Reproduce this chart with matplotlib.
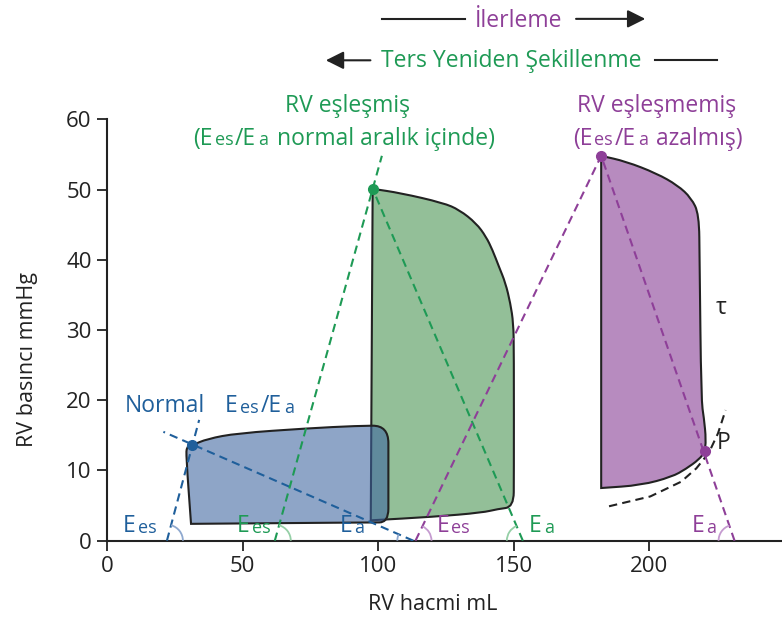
import numpy as np
import matplotlib.pyplot as plt
from matplotlib.patches import Arc, PathPatch
from matplotlib.path import Path
from matplotlib.transforms import IdentityTransform

plt.rcParams['font.family'] = ['Open Sans', 'DejaVu Sans']

# PV loops: volume (mL) and pressure (mmHg)
# (points are outline control points; listed corners stay sharp)
normal_v = [31.4, 37, 48, 74, 92, 103.8, 103.8, 103.8, 103.8, 97, 31.0, 29.2, 29.4]
normal_p = [13.6, 14.5, 15.3, 16.0, 16.35, 16.4, 11.4, 6.5, 2.6, 2.6, 2.4, 12.0, 13.4]
normal_corners = [0, 10]

matched_v = [98, 108.3, 124, 130, 136.2, 139.8, 142.2, 144.6, 147.0, 148.8, 149.9, 150.1, 150.1, 150.0, 144, 138.5, 120.4, 97.3]
matched_p = [50.1, 49.5, 48.1, 47.1, 45.2, 43.3, 41.4, 39.0, 36.7, 33.8, 31.0, 27.0, 9.0, 4.8, 4.5, 4.0, 3.4, 2.9]
matched_corners = [0, 17]

unmatched_v = [182.3, 191.4, 202.7, 210.5, 215.5, 218.4, 218.6, 219.2, 220.2, 221.0, 220.4, 218.5, 213.5, 208.4, 197.1, 182.3]
unmatched_p = [54.8, 54.0, 52.3, 50.6, 48.8, 46.5, 40.0, 20.0, 17.5, 14.3, 12.6, 11.6, 10.2, 9.1, 7.9, 7.5]
unmatched_corners = [0, 15]

edpvr_v = [185.2, 200.4, 211.8, 217.4, 222.0, 225.4, 228.2]
edpvr_p = [4.9, 6.3, 8.4, 10.3, 12.5, 15.3, 18.6]

# end-systolic points and point P
es_v = [31.4, 98.0, 182.3]
es_p = [13.6, 50.1, 54.8]
p_v, p_p = 220.5, 12.8

# Ees / Ea dashed lines (start on the volume axis, end)
normal_ees_v, normal_ees_p = [22.1, 34.0], [0, 17.2]
normal_ea_v, normal_ea_p = [113.0, 20.8], [0, 15.5]
matched_ees_v, matched_ees_p = [61.9, 101.4], [0, 54.8]
matched_ea_v, matched_ea_p = [153.4, 98.0], [0, 50.1]
unmatched_ees_v, unmatched_ees_p = [113.8, 182.3], [0, 54.8]
unmatched_ea_v, unmatched_ea_p = [231.5, 182.3], [0, 54.8]

BLUE = '#1f5f9b'
GREEN = '#1e9a55'
PURPLE = '#8e3f98'
DARK = '#222222'


def loop_patch(v, p, corners, **kw):
    # closed smooth outline through midpoints, control points from the lists
    pts = []
    for i, xy in enumerate(zip(v, p)):
        pts.append(xy)
        if i in corners:
            pts.append(xy)
    pts = np.array(pts, dtype=float)
    mids = (pts + np.roll(pts, -1, axis=0)) / 2
    verts = [mids[-1]]
    codes = [Path.MOVETO]
    for i in range(len(pts)):
        verts += [pts[i], mids[i]]
        codes += [Path.CURVE3, Path.CURVE3]
    verts.append(mids[-1])
    codes.append(Path.CLOSEPOLY)
    return PathPatch(Path(verts, codes), **kw)


fig = plt.figure(figsize=(7.82, 6.19), dpi=100)
ax = fig.add_axes([107 / 782, 78.3 / 619, 675 / 782, 421.4 / 619])
ax.set_xlim(0, 249)
ax.set_ylim(0, 60)

# loops
ax.add_patch(loop_patch(matched_v, matched_p, matched_corners, facecolor='#93bf98',
                        edgecolor=DARK, lw=1.5, zorder=2))
ax.add_patch(loop_patch(normal_v, normal_p, normal_corners,
                        facecolor=(60 / 255, 100 / 255, 160 / 255, 0.58),
                        edgecolor=DARK, lw=1.5, zorder=3))
ax.add_patch(loop_patch(unmatched_v, unmatched_p, unmatched_corners, facecolor='#b78bbf',
                        edgecolor=DARK, lw=1.5, zorder=2))
ax.plot(edpvr_v, edpvr_p, color=DARK, lw=1.5, dashes=(4, 2.5), zorder=4)

# dashed Ees / Ea lines
dash = dict(lw=1.5, dashes=(4, 2.5), zorder=4)
ax.plot(normal_ees_v, normal_ees_p, color=BLUE, **dash)
ax.plot(normal_ea_v, normal_ea_p, color=BLUE, **dash)
ax.plot(matched_ees_v, matched_ees_p, color=GREEN, **dash)
ax.plot(matched_ea_v, matched_ea_p, color=GREEN, **dash)
ax.plot(unmatched_ees_v, unmatched_ees_p, color=PURPLE, **dash)
ax.plot(unmatched_ea_v, unmatched_ea_p, color=PURPLE, **dash)

# dots
for v, p, c in zip(es_v, es_p, [BLUE, GREEN, PURPLE]):
    ax.plot(v, p, 'o', color=c, ms=7, zorder=5)
ax.plot(p_v, p_p, 'o', color=PURPLE, ms=7, zorder=5)


def angle_arc(xs, ys, color, left):
    # small angle mark where a dashed line meets the volume axis
    p0 = ax.transData.transform((xs[0], ys[0]))
    p1 = ax.transData.transform((xs[1], ys[1]))
    ang = np.degrees(np.arctan2(p1[1] - p0[1], p1[0] - p0[0]))
    t1, t2 = (ang, 180) if left else (0, ang)
    ax.add_patch(Arc(p0, 32, 32, theta1=t1, theta2=t2, transform=IdentityTransform(),
                     color=color, lw=1.3, clip_on=False, zorder=4))


angle_arc(normal_ees_v, normal_ees_p, '#8fa9cf', False)
angle_arc(normal_ea_v, normal_ea_p, '#8fa9cf', True)
angle_arc(matched_ees_v, matched_ees_p, '#95cfa6', False)
angle_arc(matched_ea_v, matched_ea_p, '#95cfa6', True)
angle_arc(unmatched_ees_v, unmatched_ees_p, '#c59bd0', False)
angle_arc(unmatched_ea_v, unmatched_ea_p, '#c59bd0', True)


def mixed_text(x, y, parts, color):
    # chain text pieces of different sizes on one baseline
    s, size = parts[0]
    prev = ax.text(x, y, s, color=color, fontsize=size, va='baseline', ha='left', zorder=6)
    prev_size = size
    for s, size in parts[1:]:
        gap = 1.5 if size != prev_size else 0
        prev = ax.annotate(s, xy=(1, 0), xycoords=prev, xytext=(gap, (prev_size - size) * 0.24),
                           textcoords='offset points', color=color, fontsize=size,
                           va='bottom', ha='left', zorder=6)
        prev_size = size


BIG, SMALL = 16.5, 13
mixed_text(6.6, 18.3, [('Normal', BIG)], BLUE)
mixed_text(43.5, 18.3, [('E', BIG), ('es', SMALL), ('/E', BIG), ('a', SMALL)], BLUE)
mixed_text(5.8, 1.2, [('E', BIG), ('es', SMALL)], BLUE)
mixed_text(85.8, 1.2, [('E', BIG), ('a', SMALL)], BLUE)
mixed_text(47.9, 1.2, [('E', BIG), ('es', SMALL)], GREEN)
mixed_text(155.7, 1.2, [('E', BIG), ('a', SMALL)], GREEN)
mixed_text(121.6, 1.2, [('E', BIG), ('es', SMALL)], PURPLE)
mixed_text(215.7, 1.2, [('E', BIG), ('a', SMALL)], PURPLE)

ax.text(88.9, 61.1, 'RV eşleşmiş', color=GREEN, fontsize=BIG, ha='center', va='baseline')
mixed_text(31.7, 56.4, [('(E', BIG), ('es', SMALL), ('/E', BIG), ('a', SMALL),
                        (' normal aralık içinde)', BIG)], GREEN)
ax.text(202.6, 61.1, 'RV eşleşmemiş', color=PURPLE, fontsize=BIG, ha='center', va='baseline')
mixed_text(171.8, 56.4, [('(E', BIG), ('es', SMALL), ('/E', BIG), ('a', SMALL),
                         (' azalmış)', BIG)], PURPLE)

ax.text(226.5, 33.1, 'τ', color=DARK, fontsize=BIG, ha='center', va='center')
ax.text(224.8, 13.9, 'P', color=DARK, fontsize=BIG, ha='left', va='center')

# progression / reverse remodelling arrows
arrow = dict(arrowstyle='-|>', color=DARK, lw=1.5, mutation_scale=27)
ax.text(152.0, 73.2, 'İlerleme', color=PURPLE, fontsize=BIG, ha='center', va='baseline')
ax.plot([101.5, 132.1], [74.3, 74.3], color=DARK, lw=1.5, clip_on=False)
ax.annotate('', xy=(199.6, 74.3), xytext=(172.0, 74.3), arrowprops=arrow, annotation_clip=False)
ax.text(149.1, 67.5, 'Ters Yeniden Şekillenme', color=GREEN, fontsize=BIG, ha='center', va='baseline')
ax.annotate('', xy=(79.7, 68.4), xytext=(98.2, 68.4), arrowprops=arrow, annotation_clip=False)
ax.plot([202.2, 225.1], [68.4, 68.4], color=DARK, lw=1.5, clip_on=False)

# axes styling
ax.spines['top'].set_visible(False)
ax.spines['right'].set_visible(False)
for s in ['left', 'bottom']:
    ax.spines[s].set_color(DARK)
    ax.spines[s].set_linewidth(1.5)
ax.set_xticks([0, 50, 100, 150, 200])
ax.set_yticks([0, 10, 20, 30, 40, 50, 60])
ax.tick_params(length=7, width=1.3, colors=DARK, labelsize=16, pad=4)
ax.set_xlabel('RV hacmi mL', fontsize=15.5, color=DARK)
ax.set_ylabel('RV basıncı mmHg', fontsize=15.5, color=DARK)
ax.xaxis.set_label_coords(0.483, -0.127)
ax.yaxis.set_label_coords(-0.102, 0.43)

fig.savefig('out.png', dpi=100)
